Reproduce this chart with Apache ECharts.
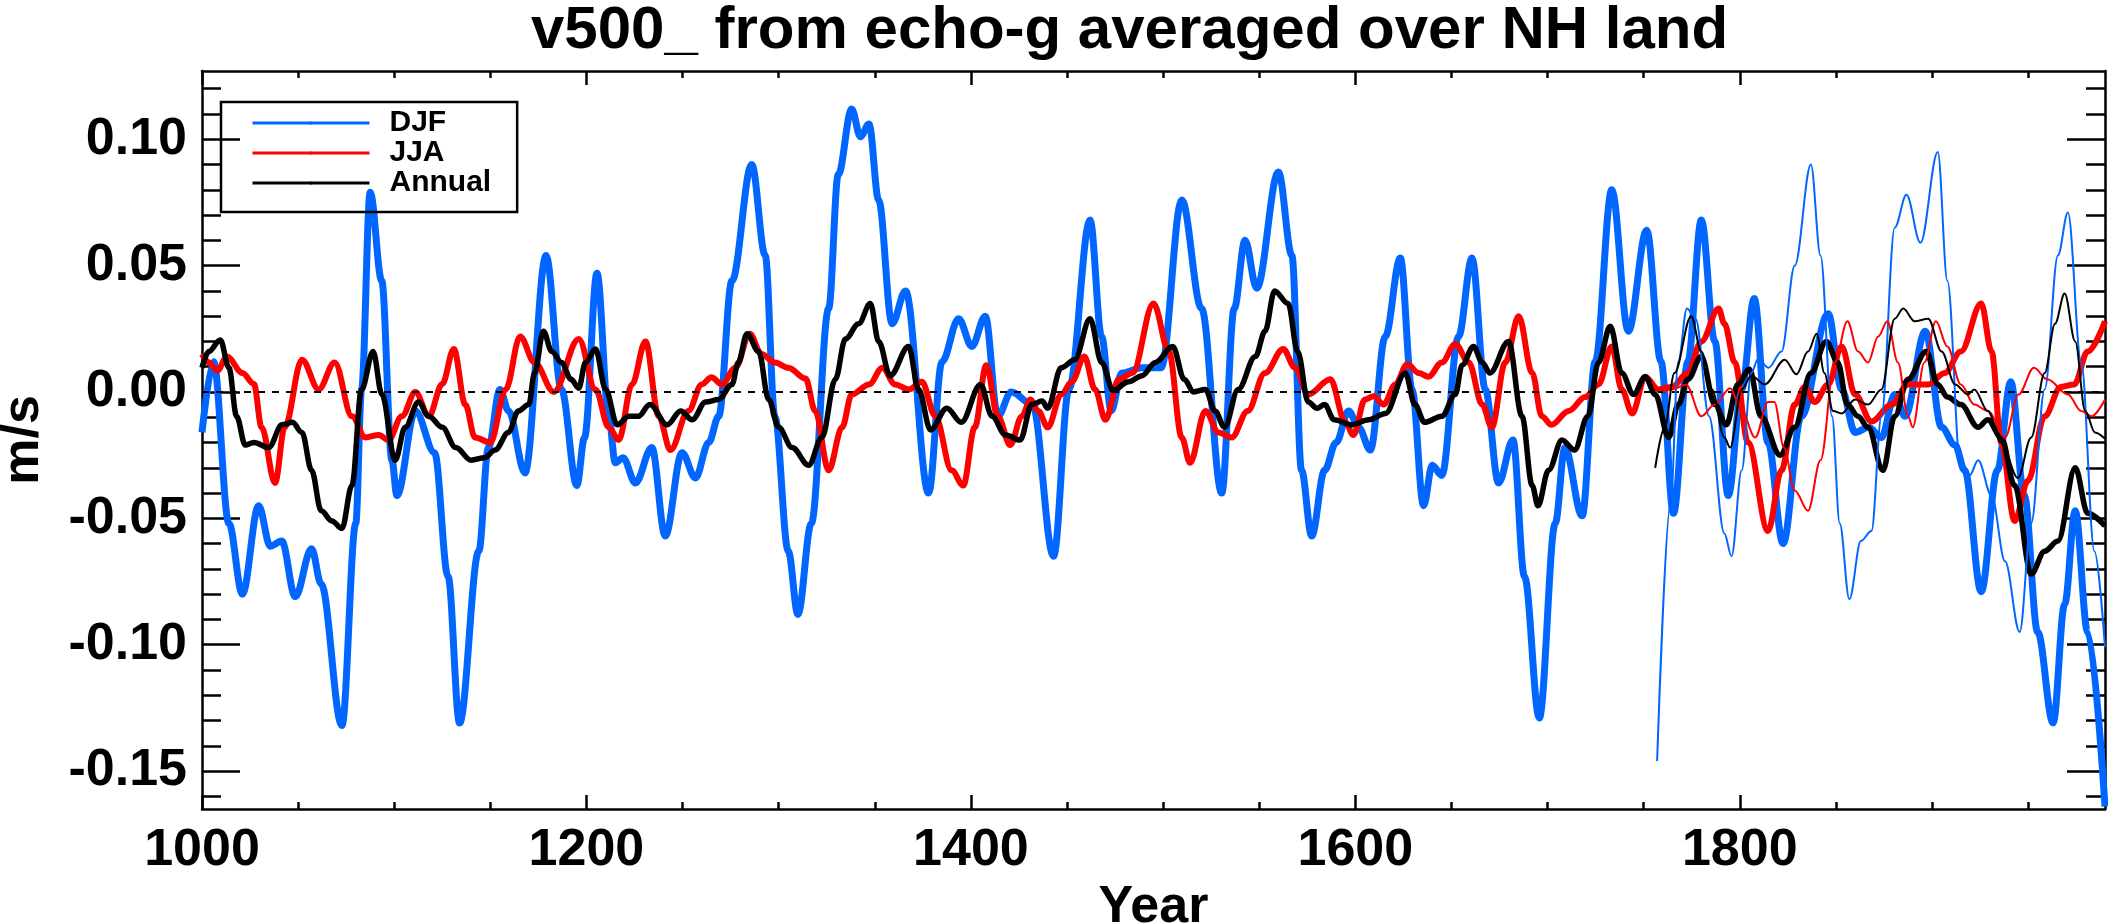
<!DOCTYPE html>
<html>
<head>
<meta charset="utf-8">
<script src="https://cdn.jsdelivr.net/npm/echarts@6/dist/echarts.min.js"></script>
<style>
html,body{margin:0;padding:0;background:#fff;}
#chart{width:2108px;height:923px;}
</style>
</head>
<body>
<div id="chart"></div>
<script>
// ---- data ----
const djfYears = [1000,1006,1014,1021,1029.5,1035.5,1041.5,1048.5,1057,1062,1072.8,1080,1083,1087.5,1093.5,1098.8,1101.4,1111,1121,1128,1134,1144,1149,1155,1159.5,1168,1179,1187,1195,1199,1205.5,1211.6,1215,1219,1225.5,1234,1241,1249.7,1256.7,1263.6,1268.8,1275.7,1286,1293,1298,1305,1310,1317,1326,1331,1338,1342.5,1347,1352,1359,1366,1378,1385,1393.6,1400.5,1407.5,1414,1421,1432,1443,1451,1462,1468,1473,1478.5,1489,1499,1509.7,1520,1530.5,1537,1542.6,1548.7,1560,1567,1572,1577.3,1584,1590,1596.5,1601.7,1607.8,1615.6,1623.4,1629.5,1635.5,1640,1645,1653.7,1660.7,1667.6,1674.5,1682,1688,1695.7,1704,1709,1718,1724.8,1733.4,1742,1751.6,1759,1765.5,1773,1780,1787,1794,1801,1807.5,1814.7,1822.5,1832,1846,1853,1860,1867,1873.7,1880.6,1886,1896.5,1905,1912,1917,1925.6,1934,1941,1948,1955,1963,1969,1974.5,1981,1990];
const djfVals = [-0.016,0.012,-0.052,-0.080,-0.045,-0.061,-0.059,-0.081,-0.062,-0.076,-0.132,-0.052,0.001,0.079,0.044,-0.027,-0.041,-0.0075,-0.024,-0.073,-0.131,-0.063,-0.022,0.001,-0.0075,-0.032,0.054,0.001,-0.037,-0.018,0.047,-0.0096,-0.028,-0.026,-0.036,-0.022,-0.057,-0.024,-0.034,-0.020,-0.0096,0.044,0.090,0.054,-0.0096,-0.063,-0.088,-0.052,0.033,0.086,0.112,0.101,0.106,0.076,0.027,0.040,-0.040,0.012,0.029,0.018,0.030,-0.0096,0.000,-0.005,-0.065,0.001,0.068,0.022,-0.0075,0.0075,0.0096,0.0096,0.076,0.033,-0.040,0.033,0.060,0.041,0.087,0.054,-0.031,-0.057,-0.031,-0.020,-0.0075,-0.014,-0.023,0.022,0.053,0.001,-0.045,-0.029,-0.033,0.022,0.053,0.001,-0.036,-0.019,-0.073,-0.129,-0.052,-0.022,-0.049,0.012,0.080,0.024,0.064,0.012,-0.048,0.012,0.068,0.020,-0.041,0.001,0.037,-0.020,-0.060,-0.0096,0.031,0.001,-0.016,-0.014,-0.018,-0.001,-0.0096,0.024,-0.014,-0.021,-0.031,-0.079,-0.031,0.004,-0.041,-0.095,-0.131,-0.084,-0.047,-0.095,-0.164];

const jjaYears = [1000,1003.5,1008,1013,1021,1027,1031,1038,1043,1052,1060.7,1069,1078,1085,1092,1097,1104,1111,1118,1125,1131,1137,1142,1150,1158,1165.5,1173,1183,1196,1204.7,1211.6,1216.8,1223.7,1230.7,1237.6,1243.7,1253,1260,1265,1270.5,1277.5,1285,1291,1298,1305,1314,1319,1326,1333,1338,1347,1354,1360.6,1367.6,1374.5,1381.5,1390,1396,1402,1408,1414,1420.5,1426.5,1431,1435,1440,1447,1452.5,1459,1464.6,1470,1477,1484,1495,1503,1509.7,1514,1522,1528.8,1535.7,1544,1553,1562.5,1568.6,1575.5,1587,1594.8,1599,1605,1609.5,1614.7,1620.8,1627,1633,1638,1645,1652,1659,1666,1671,1678,1685,1692,1697,1702,1711,1719.6,1726.5,1733.4,1738.6,1744,1750.8,1757.7,1764.6,1773,1780,1789,1792,1797.4,1804.3,1814.7,1821.7,1828.6,1833.8,1839,1846,1853,1860,1868.5,1879,1887.5,1898,1906.6,1915,1925.6,1931,1936,1943,1950,1958.6,1967,1974,1981,1990];
const jjaVals = [0.015,0.0117,0.0085,0.014,0.0075,0.0032,-0.014,-0.036,-0.014,0.0128,0.001,0.0117,-0.0096,-0.018,-0.017,-0.019,-0.0096,0.000,-0.0096,0.0032,0.017,-0.005,-0.018,-0.020,0.001,0.022,0.0117,0.000,0.021,0.001,-0.014,-0.019,0.003,0.020,-0.0096,-0.023,-0.0075,0.003,0.0058,0.003,0.0096,0.023,0.015,0.0117,0.0096,0.0053,-0.0075,-0.031,-0.014,-0.001,0.003,0.0096,0.003,0.001,0.004,-0.0096,-0.031,-0.037,-0.014,0.0106,-0.0096,-0.021,-0.0096,-0.003,-0.0075,-0.014,-0.001,0.004,0.014,0.001,-0.011,0.005,0.0075,0.035,0.016,-0.018,-0.028,-0.0075,-0.016,-0.018,-0.0075,0.0075,0.017,0.0096,-0.001,0.005,-0.012,-0.017,-0.003,-0.0017,-0.005,0.003,0.011,0.0075,0.006,0.0117,0.019,0.0117,-0.005,-0.014,0.0117,0.030,0.0075,-0.0096,-0.013,-0.0075,-0.002,0.003,0.018,0.001,-0.0085,0.006,0.001,0.002,0.0075,0.020,0.033,0.027,0.0117,-0.020,-0.055,-0.031,-0.005,0.002,-0.004,0.003,0.018,-0.001,-0.0117,-0.005,0.003,0.003,0.0075,0.016,0.035,0.016,-0.020,-0.051,-0.035,-0.0096,0.002,0.003,0.016,0.028];

const annYears = [1000,1003.5,1009.5,1014,1018,1022.5,1027,1034.7,1041.6,1047,1052,1057,1062,1067.6,1072.8,1078,1083,1089,1093.6,1100.5,1105.7,1112.6,1118,1125,1132,1140,1147,1152.5,1159.4,1164.6,1170,1173,1177.6,1182,1187,1192,1196,1199.5,1204.7,1210,1216,1222,1227,1233,1242,1249,1255,1262,1268.8,1275.7,1279,1283.5,1289.6,1294.8,1300,1307,1315.6,1322.5,1329.5,1334.7,1341.6,1347.7,1352,1358,1367.6,1372.8,1379,1387.5,1395,1405,1411,1418,1425.6,1431.7,1437,1440,1447,1454,1462,1468,1474,1482,1489,1496,1505,1511,1515.8,1522,1527,1532,1539,1548,1553,1558,1565,1570,1575.5,1580,1584,1589,1598,1607,1615.6,1626,1631,1636,1645,1652,1655.5,1661.5,1666,1670,1679.7,1686.7,1692,1695,1700.5,1707.5,1714,1721,1726.5,1732.6,1738.6,1744.7,1750.8,1756,1763,1768,1773,1780,1787,1793,1799,1805,1811,1821,1828.6,1837,1845,1851,1856,1861.5,1866.7,1874.5,1880.6,1887.5,1897,1903,1908,1915,1924,1929,1936,1943,1951.6,1958.6,1965.5,1974.5,1981,1990];
const annVals = [0.0096,0.016,0.0206,0.0096,-0.0096,-0.021,-0.020,-0.022,-0.013,-0.012,-0.016,-0.031,-0.047,-0.051,-0.054,-0.037,0.001,0.016,-0.001,-0.027,-0.014,-0.004,-0.0096,-0.014,-0.022,-0.027,-0.026,-0.023,-0.016,-0.0075,-0.005,0.0075,0.024,0.016,0.0117,0.005,0.0015,0.0117,0.017,0.001,-0.013,-0.0096,-0.0096,-0.005,-0.013,-0.0075,-0.011,-0.004,-0.003,0.003,0.0117,0.023,0.016,-0.003,-0.014,-0.022,-0.029,-0.018,0.005,0.021,0.027,0.035,0.020,0.0064,0.018,0.001,-0.015,-0.0064,-0.012,0.003,-0.0096,-0.017,-0.019,-0.005,-0.0036,-0.0064,0.0096,0.0128,0.029,0.0117,0.0006,0.004,0.0064,0.0117,0.018,0.005,0.000,0.001,-0.0075,-0.014,0.001,0.014,0.024,0.040,0.035,0.016,-0.004,-0.0064,-0.005,-0.011,-0.013,-0.011,-0.0085,0.0075,-0.005,-0.012,-0.0096,-0.001,0.0106,0.018,0.0117,0.0075,0.020,-0.0096,-0.037,-0.045,-0.031,-0.019,-0.023,-0.0096,0.0117,0.026,0.0075,-0.001,0.006,-0.001,-0.018,-0.005,0.005,0.014,-0.005,-0.013,0.003,0.009,-0.0096,-0.025,-0.014,0.0075,0.020,0.0117,-0.005,-0.0096,-0.014,-0.031,-0.0096,0.005,0.016,0.003,-0.002,-0.005,-0.014,-0.011,-0.018,-0.037,-0.072,-0.063,-0.059,-0.030,-0.048,-0.053];

const djf2Years = [1757,1764,1768,1772.5,1777,1784,1792,1795.7,1801,1806,1809.5,1815,1821.7,1828.6,1837,1842,1848,1852,1857,1863,1868.5,1873.7,1880.6,1886.7,1894,1903,1908,1915,1919.6,1924,1931,1938,1945.6,1951.6,1958.6,1965.5,1970.7,1977.6,1984.5,1990];
const djf2Vals = [-0.146,-0.044,0.012,0.033,0.029,-0.0096,-0.056,-0.065,-0.031,0.0075,0.013,0.0096,0.016,0.050,0.090,0.054,-0.0096,-0.052,-0.082,-0.059,-0.055,-0.0096,0.065,0.078,0.059,0.095,0.044,-0.031,-0.033,-0.027,-0.041,-0.067,-0.095,-0.052,0.001,0.054,0.071,0.012,-0.063,-0.101];

const jja2Years = [1760,1765,1772,1780,1787,1795,1801,1808,1814.7,1818,1823,1828.6,1835.5,1842,1849.4,1856,1861.5,1866.7,1872,1876.8,1882.3,1887.5,1890,1896,1902,1908,1915,1922,1929,1938,1945,1953,1960,1970.7,1977.6,1983,1990];
const jja2Vals = [0.000,0.001,0.003,-0.0096,-0.005,0.0015,-0.0075,-0.018,-0.004,-0.004,-0.022,-0.039,-0.047,-0.027,0.0117,0.028,0.016,0.0117,0.022,0.028,0.0117,-0.0096,-0.014,0.0117,0.028,0.018,0.003,-0.005,-0.0075,-0.018,-0.001,0.0096,0.005,-0.001,-0.0075,-0.0096,-0.003];

const ann2Years = [1756,1761,1766,1774.7,1780,1785.5,1792,1795,1801,1806,1813,1823.4,1829.5,1835.5,1840,1844,1848.5,1853,1860,1866.7,1873.7,1880.6,1885,1891,1898,1905,1912,1918.7,1922,1929,1936,1944.7,1951.6,1958.6,1964,1969,1974.5,1979.7,1984.8,1990];
const ann2Vals = [-0.030,-0.014,0.0075,0.030,0.016,0.001,-0.018,-0.022,0.001,0.0064,0.003,0.0128,0.007,0.016,0.023,0.0075,-0.0075,-0.0085,-0.003,-0.005,0.001,0.029,0.033,0.028,0.029,0.016,0.003,-0.001,0.001,-0.0075,-0.020,-0.034,-0.018,0.0075,0.027,0.039,0.020,-0.0075,-0.016,-0.0185];

const xMajorTicks = [1000,1200,1400,1600,1800];
const xMinorTicks = [1050,1100,1150,1250,1300,1350,1450,1500,1550,1650,1700,1750,1850,1900,1950];
const yMajorTicks = [-0.15,-0.10,-0.05,0.00,0.05,0.10];
const yMinorTicks = [-0.16,-0.14,-0.13,-0.12,-0.11,-0.09,-0.08,-0.07,-0.06,-0.04,-0.03,-0.02,-0.01,0.01,0.02,0.03,0.04,0.06,0.07,0.08,0.09,0.11,0.12];

const titleText = 'v500_ from echo-g averaged over NH land';
// ---------------------------------------------

const zip = (xs, ys) => xs.map((x, i) => [x, ys[i]]);
const FONT = 'Liberation Sans';
const XMIN = 1000, XMAX = 1990, YMIN = -0.165, YMAX = 0.127;
const BLUE = '#0066ff', RED = '#ff0000', BLACK = '#000000';

function xAx(pos, values, len, showLabel, showLine) {
  return {
    type: 'value', position: pos, min: XMIN, max: XMAX,
    splitLine: {show: false},
    axisLine: {show: showLine, onZero: false, lineStyle: {color: '#000', width: 2.5}},
    axisTick: {show: true, inside: true, length: len, customValues: values, lineStyle: {color: '#000', width: 2.5}},
    axisLabel: {show: showLabel, customValues: values, margin: 16, color: '#000', fontSize: 52, fontWeight: 'bold', fontFamily: FONT,
      formatter: v => String(Math.round(v))}
  };
}
function yAx(pos, values, len, showLabel, showLine) {
  return {
    type: 'value', position: pos, min: YMIN, max: YMAX,
    splitLine: {show: false},
    axisLine: {show: showLine, onZero: false, lineStyle: {color: '#000', width: 2.5}},
    axisTick: {show: true, inside: true, length: len, customValues: values, lineStyle: {color: '#000', width: 2.5}},
    axisLabel: {show: showLabel, customValues: values, margin: 15, color: '#000', fontSize: 52, fontWeight: 'bold', fontFamily: FONT,
      formatter: v => v.toFixed(2)}
  };
}

const xAxes = [
  xAx('bottom', xMajorTicks, 14, true, true),
  xAx('bottom', xMinorTicks, 7, false, false),
  xAx('top', xMajorTicks, 14, false, true),
  xAx('top', xMinorTicks, 7, false, false)
];
xAxes[0].name = 'Year';
xAxes[0].nameLocation = 'middle';
xAxes[0].nameGap = 70;
xAxes[0].nameTextStyle = {color: '#000', fontSize: 52, fontWeight: 'bold', fontFamily: FONT};

const yAxes = [
  yAx('left', yMajorTicks, 38, true, true),
  yAx('left', yMinorTicks, 19, false, false),
  yAx('right', yMajorTicks, 38, false, true),
  yAx('right', yMinorTicks, 19, false, false)
];
yAxes[0].name = 'm/s';
yAxes[0].nameLocation = 'middle';
yAxes[0].nameGap = 152;
yAxes[0].nameRotate = 90;
yAxes[0].nameTextStyle = {color: '#000', fontSize: 52, fontWeight: 'bold', fontFamily: FONT};

function line(name, xs, ys, color, width, z) {
  return {
    name: name, type: 'line', data: zip(xs, ys), xAxisIndex: 0, yAxisIndex: 0,
    showSymbol: false, symbol: 'none', smooth: 0.35, smoothMonotone: 'x',
    lineStyle: {color: color, width: width}, itemStyle: {color: color},
    emphasis: {disabled: true}, silent: true, animation: false, z: z
  };
}

const series = [
  line('DJF', djfYears, djfVals, BLUE, 7, 2),
  line('JJA', jjaYears, jjaVals, RED, 6, 3),
  line('Annual', annYears, annVals, BLACK, 5.5, 4),
  line('DJF_2', djf2Years, djf2Vals, BLUE, 2, 5),
  line('JJA_2', jja2Years, jja2Vals, RED, 2, 5),
  line('Annual_2', ann2Years, ann2Vals, BLACK, 2, 5)
];
series[0].markLine = {
  silent: true, symbol: ['none', 'none'], label: {show: false}, animation: false,
  lineStyle: {color: '#000', type: [7, 7], width: 2},
  data: [{yAxis: 0}]
};

const chart = echarts.init(document.getElementById('chart'), null, {renderer: 'canvas'});
chart.setOption({
  backgroundColor: '#fff',
  animation: false,
  title: {
    text: titleText, left: 526, top: -4,
    textStyle: {color: '#000', fontSize: 60, fontWeight: 'bold', fontFamily: FONT}
  },
  legend: {
    data: ['DJF', 'JJA', 'Annual'],
    orient: 'vertical', left: 221, top: 102,
    padding: [6, 26, 14, 30],
    itemWidth: 117, itemHeight: 4, itemGap: 0,
    borderColor: '#000', borderWidth: 2.5,
    lineStyle: {width: 3},
    selectedMode: false,
    textStyle: {color: '#000', fontSize: 30, fontWeight: 'bold', fontFamily: FONT, lineHeight: 30, padding: [0, 0, 0, 15]}
  },
  grid: {left: 202, right: 3, top: 71, bottom: 114, containLabel: false, outerBoundsMode: 'none'},
  xAxis: xAxes,
  yAxis: yAxes,
  series: series
});
</script>
</body>
</html>
